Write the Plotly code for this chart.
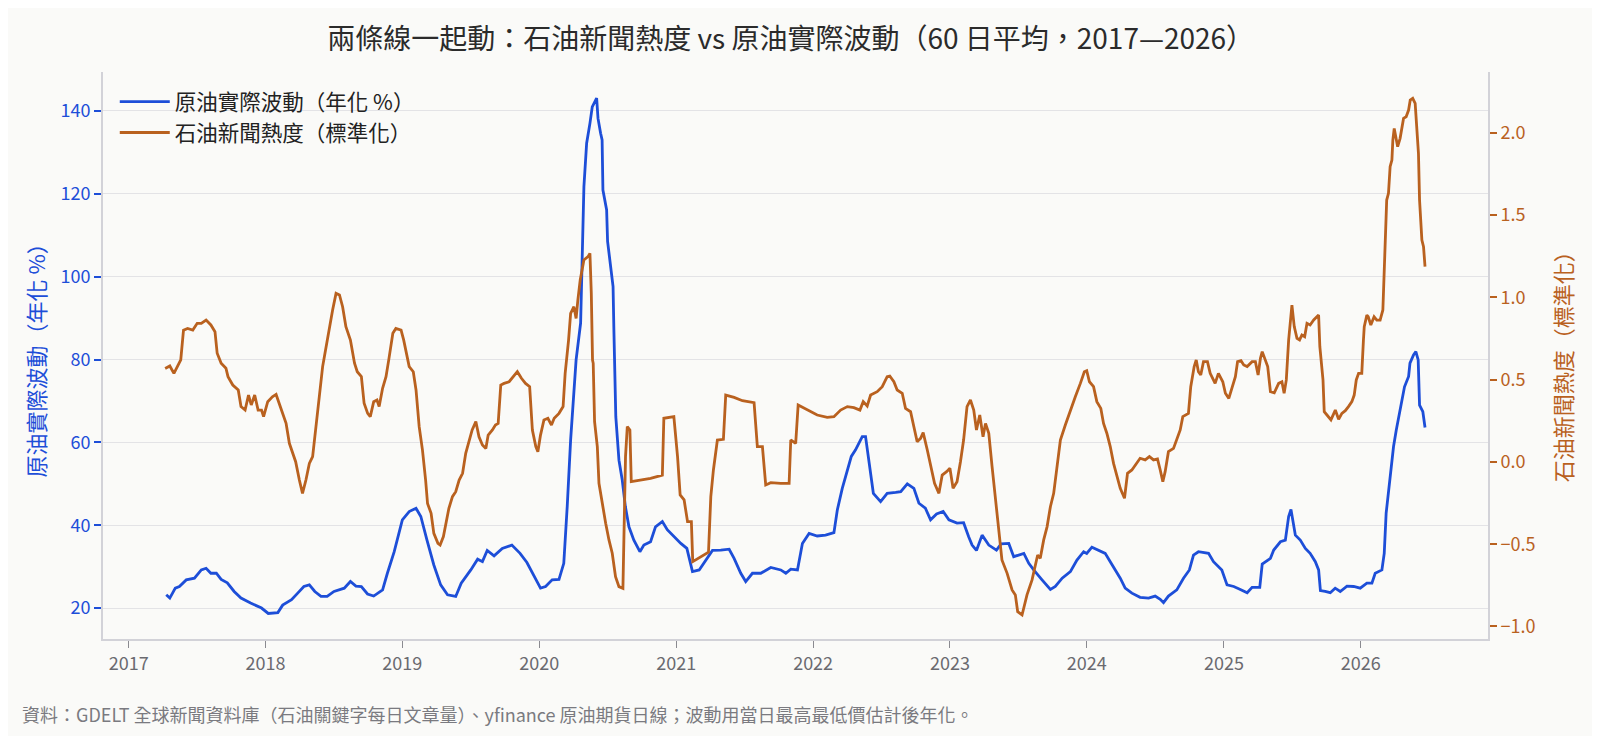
import pandas as pd
import plotly.graph_objs as go

# 原油實際波動（年化 %），60 日平均 — 以小數年份標記日期
vol_years = [
    2017.274, 2017.30, 2017.34, 2017.37, 2017.42, 2017.48, 2017.53, 2017.565, 2017.60, 2017.64,
    2017.675, 2017.72, 2017.77, 2017.82, 2017.89, 2017.97, 2018.02, 2018.09, 2018.125, 2018.19,
    2018.235, 2018.28, 2018.32, 2018.36, 2018.405, 2018.45, 2018.50, 2018.575, 2018.62, 2018.66,
    2018.70, 2018.745, 2018.79, 2018.855, 2018.89, 2018.94, 2019.00, 2019.05, 2019.10, 2019.135,
    2019.18, 2019.23, 2019.28, 2019.33, 2019.39, 2019.43, 2019.50, 2019.55, 2019.585, 2019.62,
    2019.67, 2019.73, 2019.80, 2019.86, 2019.91, 2019.96, 2020.01, 2020.047, 2020.095, 2020.145,
    2020.18, 2020.205, 2020.23, 2020.27, 2020.303, 2020.327, 2020.347, 2020.371, 2020.388, 2020.42,
    2020.43, 2020.449, 2020.46, 2020.466, 2020.493, 2020.50, 2020.522, 2020.54, 2020.546, 2020.552,
    2020.56, 2020.583, 2020.607, 2020.63, 2020.656, 2020.692, 2020.736, 2020.765, 2020.814, 2020.85,
    2020.90, 2020.936, 2020.984, 2021.033, 2021.077, 2021.118, 2021.167, 2021.215, 2021.264, 2021.325,
    2021.386, 2021.422, 2021.471, 2021.507, 2021.556, 2021.617, 2021.69, 2021.763, 2021.80, 2021.836,
    2021.885, 2021.921, 2021.97, 2022.03, 2022.091, 2022.152, 2022.177, 2022.213, 2022.25, 2022.279,
    2022.31, 2022.359, 2022.383, 2022.408, 2022.44, 2022.493, 2022.541, 2022.603, 2022.64, 2022.688,
    2022.736, 2022.773, 2022.82, 2022.858, 2022.902, 2022.95, 2022.992, 2023.052, 2023.10, 2023.137,
    2023.162, 2023.194, 2023.235, 2023.284, 2023.34, 2023.374, 2023.43, 2023.466, 2023.54, 2023.576,
    2023.612, 2023.673, 2023.734, 2023.77, 2023.82, 2023.88, 2023.928, 2023.977, 2024.0, 2024.038,
    2024.087, 2024.135, 2024.172, 2024.208, 2024.245, 2024.281, 2024.33, 2024.39, 2024.452, 2024.50,
    2024.537, 2024.561, 2024.597, 2024.658, 2024.707, 2024.75, 2024.78, 2024.816, 2024.853, 2024.89,
    2024.926, 2024.987, 2025.023, 2025.072, 2025.12, 2025.17, 2025.206, 2025.262, 2025.28, 2025.34,
    2025.364, 2025.413, 2025.449, 2025.473, 2025.49, 2025.505, 2025.522, 2025.558, 2025.595, 2025.63,
    2025.668, 2025.692, 2025.705, 2025.74, 2025.777, 2025.813, 2025.85, 2025.899, 2025.948, 2025.996,
    2026.045, 2026.082, 2026.106, 2026.155, 2026.172, 2026.186, 2026.203, 2026.22, 2026.24, 2026.26,
    2026.284, 2026.30, 2026.32, 2026.35, 2026.36, 2026.386, 2026.403, 2026.42, 2026.43, 2026.454,
    2026.47,
]
vol_values = [
    23.2, 22.4, 24.8, 25.2, 26.8, 27.2, 29.2, 29.6, 28.4, 28.4,
    26.9, 26.1, 24.0, 22.4, 21.2, 20.0, 18.7, 18.9, 20.7, 22.0,
    23.6, 25.2, 25.6, 24.0, 22.8, 22.8, 24.0, 24.8, 26.4, 25.3,
    25.2, 23.4, 22.9, 24.4, 28.4, 33.6, 41.3, 43.3, 44.1, 42.1,
    36.4, 30.4, 25.6, 23.2, 22.8, 26.0, 29.2, 31.8, 31.2, 33.9,
    32.6, 34.4, 35.2, 33.2, 31.0, 28.0, 24.8, 25.2, 26.8, 26.9,
    30.8, 44.5, 60.6, 79.9, 88.8, 121.7, 132.2, 137.0, 141.0, 143.1,
    138.2, 134.6, 133.0, 120.9, 116.1, 108.5, 102.4, 97.6, 87.1, 80.0,
    66.2, 55.7, 50.9, 44.5, 39.6, 36.4, 33.6, 35.2, 36.0, 39.6,
    40.9, 38.9, 37.2, 35.6, 34.4, 28.8, 29.2, 31.6, 33.9, 34.0,
    34.2, 32.0, 28.4, 26.4, 28.4, 28.4, 29.8, 29.2, 28.4, 29.4,
    29.2, 35.6, 38.0, 37.4, 37.6, 38.2, 43.7, 48.9, 53.3, 56.6,
    58.2, 61.4, 61.4, 55.7, 47.7, 45.7, 47.7, 47.9, 48.1, 50.0,
    48.9, 45.3, 44.1, 41.3, 42.7, 43.3, 41.3, 40.5, 40.6, 37.2,
    35.2, 33.9, 37.6, 35.2, 34.0, 35.5, 35.6, 32.4, 33.2, 30.8,
    29.2, 26.8, 24.5, 25.2, 27.2, 28.8, 31.6, 33.6, 33.2, 34.7,
    34.0, 33.2, 31.2, 29.2, 27.2, 24.8, 23.6, 22.6, 22.4, 22.9,
    22.1, 21.3, 22.9, 24.4, 27.2, 29.2, 32.8, 33.6, 33.4, 33.2,
    31.2, 29.2, 25.6, 25.2, 24.5, 23.7, 25.0, 25.0, 30.6, 32.0,
    34.0, 36.0, 36.4, 42.1, 43.8, 41.3, 37.6, 36.4, 34.4, 33.2,
    31.2, 29.2, 24.2, 24.0, 23.7, 24.8, 24.0, 25.3, 25.2, 24.8,
    26.0, 26.0, 28.4, 29.2, 33.2, 42.9, 48.5, 53.3, 59.0, 63.0,
    67.4, 70.6, 73.4, 75.9, 79.1, 81.1, 81.9, 79.9, 69.0, 67.4,
    63.6,
]

# 石油新聞熱度（標準化），60 日平均
news_years = [
    2017.266, 2017.30, 2017.33, 2017.364, 2017.38, 2017.40, 2017.43, 2017.468, 2017.50, 2017.53,
    2017.565, 2017.60, 2017.63, 2017.646, 2017.66, 2017.675, 2017.71, 2017.725, 2017.76, 2017.80,
    2017.82, 2017.85, 2017.875, 2017.895, 2017.92, 2017.945, 2017.97, 2017.985, 2018.016, 2018.05,
    2018.077, 2018.11, 2018.15, 2018.174, 2018.20, 2018.22, 2018.247, 2018.27, 2018.295, 2018.32,
    2018.344, 2018.37, 2018.393, 2018.417, 2018.43, 2018.458, 2018.49, 2018.515, 2018.54, 2018.563,
    2018.587, 2018.62, 2018.65, 2018.67, 2018.70, 2018.72, 2018.746, 2018.765, 2018.79, 2018.814,
    2018.83, 2018.855, 2018.88, 2018.90, 2018.93, 2018.952, 2018.99, 2019.01, 2019.04, 2019.05,
    2019.08, 2019.10, 2019.123, 2019.147, 2019.17, 2019.184, 2019.21, 2019.23, 2019.26, 2019.276,
    2019.30, 2019.318, 2019.34, 2019.366, 2019.39, 2019.415, 2019.44, 2019.463, 2019.487, 2019.51,
    2019.537, 2019.56, 2019.585, 2019.61, 2019.627, 2019.658, 2019.68, 2019.70, 2019.719, 2019.743,
    2019.78, 2019.81, 2019.84, 2019.87, 2019.90, 2019.93, 2019.95, 2019.975, 2019.99, 2020.01,
    2020.035, 2020.064, 2020.09, 2020.11, 2020.145, 2020.175, 2020.19, 2020.215, 2020.23, 2020.254,
    2020.27, 2020.283, 2020.30, 2020.327, 2020.357, 2020.371, 2020.381, 2020.39, 2020.395, 2020.405,
    2020.425, 2020.437, 2020.46, 2020.486, 2020.51, 2020.534, 2020.558, 2020.583, 2020.612, 2020.62,
    2020.631, 2020.644, 2020.663, 2020.673, 2020.741, 2020.814, 2020.90, 2020.911, 2020.984, 2021.009,
    2021.028, 2021.057, 2021.082, 2021.11, 2021.12, 2021.142, 2021.18, 2021.235, 2021.252, 2021.271,
    2021.30, 2021.344, 2021.361, 2021.422, 2021.483, 2021.568, 2021.592, 2021.629, 2021.653, 2021.69,
    2021.763, 2021.824, 2021.836, 2021.872, 2021.89, 2021.957, 2022.03, 2022.103, 2022.152, 2022.201,
    2022.25, 2022.298, 2022.342, 2022.366, 2022.395, 2022.42, 2022.468, 2022.505, 2022.541, 2022.56,
    2022.59, 2022.614, 2022.651, 2022.675, 2022.712, 2022.736, 2022.76, 2022.785, 2022.804, 2022.834,
    2022.858, 2022.887, 2022.919, 2022.943, 2022.975, 2023.0, 2023.023, 2023.052, 2023.077, 2023.10,
    2023.125, 2023.15, 2023.174, 2023.194, 2023.218, 2023.242, 2023.26, 2023.284, 2023.308, 2023.333,
    2023.356, 2023.38, 2023.418, 2023.454, 2023.478, 2023.495, 2023.527, 2023.563, 2023.6, 2023.624,
    2023.641, 2023.66, 2023.685, 2023.71, 2023.734, 2023.758, 2023.783, 2023.807, 2023.843, 2023.88,
    2023.916, 2023.953, 2023.982, 2024.0, 2024.02, 2024.05, 2024.074, 2024.103, 2024.123, 2024.147,
    2024.172, 2024.196, 2024.22, 2024.245, 2024.276, 2024.298, 2024.33, 2024.354, 2024.39, 2024.427,
    2024.458, 2024.488, 2024.517, 2024.537, 2024.556, 2024.573, 2024.597, 2024.634, 2024.658, 2024.683,
    2024.702, 2024.743, 2024.76, 2024.785, 2024.8, 2024.816, 2024.833, 2024.853, 2024.882, 2024.902,
    2024.938, 2024.962, 2024.994, 2025.011, 2025.036, 2025.06, 2025.084, 2025.1, 2025.125, 2025.145,
    2025.17, 2025.206, 2025.23, 2025.25, 2025.267, 2025.28, 2025.3, 2025.32, 2025.34, 2025.368,
    2025.4, 2025.424, 2025.44, 2025.456, 2025.473, 2025.485, 2025.497, 2025.514, 2025.534, 2025.553,
    2025.57, 2025.59, 2025.607, 2025.63, 2025.656, 2025.692, 2025.701, 2025.724, 2025.733, 2025.753,
    2025.782, 2025.814, 2025.838, 2025.862, 2025.887, 2025.91, 2025.935, 2025.952, 2025.967, 2025.984,
    2026.008, 2026.02, 2026.026, 2026.045, 2026.055, 2026.074, 2026.098, 2026.118, 2026.142, 2026.162,
    2026.172, 2026.18, 2026.19, 2026.203, 2026.215, 2026.228, 2026.235, 2026.245, 2026.26, 2026.27,
    2026.288, 2026.313, 2026.332, 2026.35, 2026.362, 2026.38, 2026.398, 2026.41, 2026.422, 2026.43,
    2026.447, 2026.459, 2026.47,
]
news_values = [
    0.568, 0.583, 0.538, 0.599, 0.62, 0.80, 0.811, 0.801, 0.842, 0.842,
    0.862, 0.832, 0.791, 0.66, 0.63, 0.599, 0.569, 0.518, 0.467, 0.437,
    0.336, 0.315, 0.406, 0.346, 0.406, 0.315, 0.315, 0.275, 0.366, 0.396,
    0.41, 0.325, 0.234, 0.113, 0.042, 0.001, -0.11, -0.191, -0.11, -0.009,
    0.032, 0.234, 0.396, 0.579, 0.64, 0.781, 0.923, 1.024, 1.014, 0.943,
    0.821, 0.74, 0.60, 0.548, 0.518, 0.356, 0.295, 0.275, 0.366, 0.376,
    0.336, 0.447, 0.518, 0.62, 0.781, 0.811, 0.801, 0.74, 0.619, 0.579,
    0.548, 0.437, 0.214, 0.072, -0.11, -0.252, -0.312, -0.434, -0.495, -0.505,
    -0.454, -0.373, -0.282, -0.211, -0.181, -0.11, -0.069, 0.052, 0.123, 0.194,
    0.245, 0.153, 0.103, 0.082, 0.163, 0.194, 0.224, 0.234, 0.467, 0.477,
    0.487, 0.518, 0.548, 0.508, 0.477, 0.457, 0.194, 0.093, 0.062, 0.163,
    0.255, 0.265, 0.224, 0.265, 0.295, 0.336, 0.538, 0.74, 0.903, 0.943,
    0.872, 0.984, 1.105, 1.227, 1.247, 1.267, 1.024, 0.619, 0.599, 0.244,
    0.093, -0.130, -0.251, -0.373, -0.474, -0.555, -0.697, -0.758, -0.768, -0.434,
    0.032, 0.214, 0.194, -0.12, -0.11, -0.100, -0.08, 0.265, 0.275, 0.032,
    -0.201, -0.231, -0.363, -0.363, -0.606, -0.596, -0.575, -0.549, -0.211, -0.049,
    0.133, 0.137, 0.406, 0.392, 0.372, 0.36, 0.093, 0.093, -0.14, -0.126,
    -0.13, -0.13, 0.133, 0.113, 0.346, 0.319, 0.285, 0.271, 0.275, 0.315,
    0.336, 0.33, 0.315, 0.366, 0.34, 0.406, 0.427, 0.457, 0.518, 0.522,
    0.487, 0.437, 0.417, 0.325, 0.305, 0.214, 0.123, 0.143, 0.178, 0.072,
    -0.029, -0.13, -0.191, -0.08, -0.059, -0.039, -0.16, -0.12, 0.001, 0.133,
    0.336, 0.376, 0.315, 0.194, 0.285, 0.153, 0.234, 0.174, -0.029, -0.231,
    -0.434, -0.596, -0.677, -0.778, -0.808, -0.91, -0.93, -0.808, -0.717, -0.636,
    -0.566, -0.586, -0.474, -0.393, -0.272, -0.191, -0.029, 0.133, 0.224, 0.315,
    0.396, 0.477, 0.548, 0.554, 0.487, 0.457, 0.366, 0.325, 0.234, 0.174,
    0.093, -0.009, -0.09, -0.16, -0.221, -0.069, -0.049, -0.019, 0.022, 0.012,
    0.032, 0.012, 0.018, -0.049, -0.12, -0.059, 0.062, 0.082, 0.133, 0.194,
    0.275, 0.295, 0.457, 0.579, 0.619, 0.548, 0.528, 0.609, 0.609, 0.538,
    0.477, 0.538, 0.487, 0.417, 0.386, 0.447, 0.518, 0.609, 0.615, 0.589,
    0.579, 0.609, 0.609, 0.528, 0.629, 0.67, 0.629, 0.579, 0.427, 0.42,
    0.477, 0.487, 0.417, 0.498, 0.74, 0.862, 0.953, 0.822, 0.751, 0.741,
    0.771, 0.761, 0.842, 0.832, 0.862, 0.892, 0.70, 0.498, 0.305, 0.285,
    0.255, 0.315, 0.259, 0.295, 0.311, 0.336, 0.366, 0.406, 0.498, 0.538,
    0.538, 0.74, 0.822, 0.892, 0.882, 0.832, 0.882, 0.862, 0.862, 0.923,
    1.146, 1.287, 1.591, 1.632, 1.794, 1.834, 1.956, 2.026, 1.956, 1.915,
    1.966, 2.087, 2.097, 2.138, 2.199, 2.209, 2.178, 2.037, 1.875, 1.591,
    1.348, 1.308, 1.186,
]

x_ticks = [2017, 2018, 2019, 2020, 2021, 2022, 2023, 2024, 2025, 2026]
vol_ticks = [20, 40, 60, 80, 100, 120, 140]
news_ticks = [-1.0, -0.5, 0.0, 0.5, 1.0, 1.5, 2.0]

BLUE = '#1d4ed8'
ORANGE = '#b9611f'
BG = '#fafaf8'
FONT = 'Noto Sans CJK TC, Noto Sans, sans-serif'


def to_date(y):
	year = int(y)
	start = pd.Timestamp(year=year, month=1, day=1)
	return start + pd.Timedelta(days=(y - year) * 365.25)


vol_dates = [to_date(y) for y in vol_years]
news_dates = [to_date(y) for y in news_years]

fig = go.Figure()
fig.add_trace(go.Scatter(x=vol_dates, y=vol_values, mode='lines', name='原油實際波動（年化 %）',
	line=dict(color=BLUE, width=2.8), yaxis='y'))
fig.add_trace(go.Scatter(x=news_dates, y=news_values, mode='lines', name='石油新聞熱度（標準化）',
	line=dict(color=ORANGE, width=2.8), yaxis='y2'))

# the page body adds an 8px offset, so the figure is a bit smaller and shifted up/left
fig.update_layout(
	width=1592, height=728, autosize=False,
	paper_bgcolor=BG, plot_bgcolor=BG,
	font=dict(family=FONT, size=18, color='#555'),
	margin=dict(l=95, r=112, t=64, b=97, pad=0),
	title=dict(text='兩條線一起動：石油新聞熱度 vs 原油實際波動（60 日平均，2017—2026）',
		x=0.4965, xref='paper', xanchor='center', y=0.9574, yanchor='middle',
		font=dict(size=28, color='#2b2b2b')),
	showlegend=True,
	legend=dict(x=0.0085, y=0.984, xanchor='left', yanchor='top', bgcolor='rgba(0,0,0,0)',
		font=dict(size=21.5, color='#222'), tracegroupgap=0, itemwidth=50),
	xaxis=dict(
		type='date',
		range=[to_date(2016.814), to_date(2026.93)],
		tickvals=[pd.Timestamp(year=y, month=1, day=1) for y in x_ticks],
		ticktext=[str(y) for y in x_ticks],
		ticks='outside', ticklen=7, tickwidth=1.4, tickcolor='#8a8a90',
		tickfont=dict(size=18, color='#6a6a70'),
		showline=True, linecolor='#d2d2d8', linewidth=1.8,
		showgrid=False, zeroline=False,
	),
	yaxis=dict(
		range=[12.53, 149.4],
		tickvals=vol_ticks,
		ticks='outside', ticklen=7, tickwidth=1.6, tickcolor=BLUE,
		tickfont=dict(size=18, color=BLUE),
		showline=True, linecolor='#d2d2d8', linewidth=1.8,
		showgrid=True, gridcolor='#e3e3e6', gridwidth=1.1, zeroline=False,
	),
	yaxis2=dict(
		range=[-1.076, 2.369],
		overlaying='y', side='right',
		tickvals=news_ticks, tickformat='.1f',
		ticks='outside', ticklen=7, tickwidth=1.6, tickcolor=ORANGE,
		tickfont=dict(size=18, color=ORANGE),
		showline=True, linecolor='#d2d2d8', linewidth=1.8,
		showgrid=False, zeroline=False,
	),
)

fig.add_annotation(text='原油實際波動（年化 %）', textangle=-90, xref='paper', yref='paper',
	x=-0.0498, y=0.5, xanchor='center', yanchor='middle', showarrow=False,
	font=dict(size=22, color=BLUE))
fig.add_annotation(text='石油新聞熱度（標準化）', textangle=-90, xref='paper', yref='paper',
	x=1.0534, y=0.49, xanchor='center', yanchor='middle', showarrow=False,
	font=dict(size=22, color=ORANGE))
fig.add_annotation(text='資料：GDELT 全球新聞資料庫（石油關鍵字每日文章量）、yfinance 原油期貨日線；波動用當日最高最低價估計後年化。',
	xref='paper', yref='paper', x=-0.0599, y=-0.1323, xanchor='left', yanchor='middle',
	showarrow=False, font=dict(size=18, color='#7a7a80'))

fig.write_html("out.html")
